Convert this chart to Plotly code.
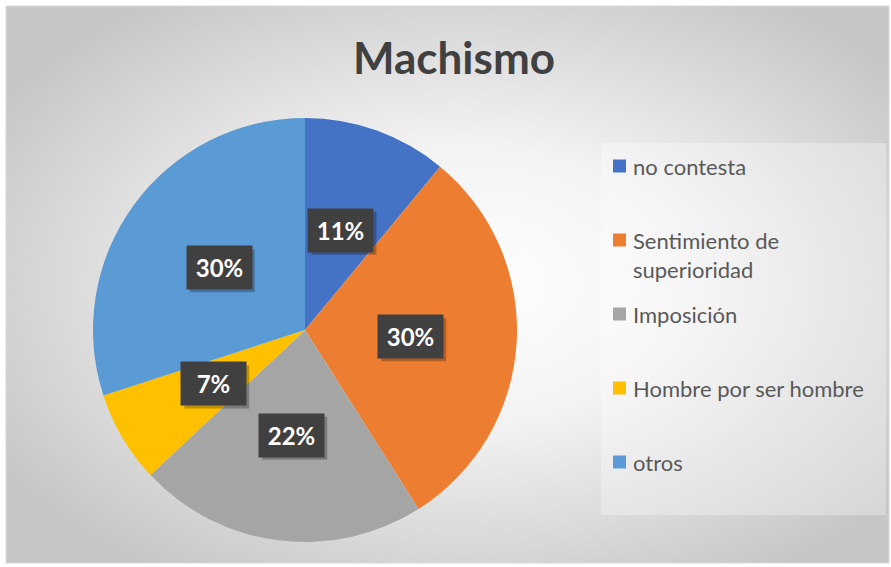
import base64, math
import plotly.graph_objects as go

# data
labels = ["no contesta", "Sentimiento de superioridad", "Imposición",
          "Hombre por ser hombre", "otros"]
legend_labels = ["no contesta", "Sentimiento de<br>superioridad", "Imposición",
                 "Hombre por ser hombre", "otros"]
values = [11, 30, 22, 7, 30]
colors = ["#4472C4", "#ED7D31", "#A5A5A5", "#FFC000", "#5B9BD5"]

W, H = 891, 567
cx, cy, R = 305, 330, 212   # pie centre / radius in px

def px(x, y):
    return x / W, 1 - y / H

# radial gradient background as inline svg
svg = """<svg xmlns='http://www.w3.org/2000/svg' width='883' height='557'>
<defs><radialGradient id='g' cx='52%' cy='50%' r='62%'>
<stop offset='0%' stop-color='#ffffff'/><stop offset='40%' stop-color='#f3f3f3'/>
<stop offset='100%' stop-color='#c6c6c6'/></radialGradient></defs>
<rect width='883' height='557' fill='url(#g)'/></svg>"""
bg_src = "data:image/svg+xml;base64," + base64.b64encode(svg.encode()).decode()

fig = go.Figure()
fig.add_trace(go.Pie(
    labels=labels, values=values, sort=False, direction="clockwise", rotation=0,
    marker=dict(colors=colors, line=dict(width=0)),
    textinfo="none", hoverinfo="label+percent", showlegend=False,
    domain=dict(x=[(cx - R) / W, (cx + R) / W], y=[1 - (cy + R) / H, 1 - (cy - R) / H]),
))

shapes = [
    dict(type="rect", xref="paper", yref="paper", x0=6 / W, x1=889 / W, y0=1 - 563 / H, y1=1 - 6 / H,
         line=dict(color="#d9d9d9", width=1), layer="above"),
    dict(type="rect", xref="paper", yref="paper", x0=601 / W, x1=886 / W, y0=1 - 515 / H, y1=1 - 143 / H,
         fillcolor="rgba(255,255,255,0.3)", line=dict(width=0), layer="below"),
]
ann = []

# data labels: mid angle of each slice, half radius out
total = sum(values)
cum = 0
for v in values:
    th = 2 * math.pi * (cum + v / 2) / total
    cum += v
    lx, ly = cx + 0.5 * R * math.sin(th), cy - 0.5 * R * math.cos(th)
    x, y = px(lx, ly)
    # drop shadow behind the label box
    sx0, sy0 = px(lx - 32.5 + 3, ly + 21.5 + 3)
    sx1, sy1 = px(lx + 32.5 + 3, ly - 21.5 + 3)
    shapes.append(dict(type="rect", xref="paper", yref="paper", x0=sx0, x1=sx1, y0=sy0, y1=sy1,
                       fillcolor="rgba(0,0,0,0.25)", line=dict(width=0), layer="above"))
    txt = f"{round(100 * v / total)}%"
    ann.append(dict(x=x, y=y, xref="paper", yref="paper", xanchor="center", yanchor="middle",
                    showarrow=False, width=53, height=31, borderpad=6,
                    text=f"<b>{txt}</b>", bgcolor="#404040",
                    font=dict(family="Lato", size=24, color="white")))

# legend drawn by hand so spacing follows the original
for i, (lab, col) in enumerate(zip(legend_labels, colors)):
    yc = 166 + 74 * i
    x0, y0 = px(613, yc - 6.5)
    x1, y1 = px(626, yc + 6.5)
    shapes.append(dict(type="rect", xref="paper", yref="paper", x0=x0, x1=x1, y0=y1, y1=y0,
                       fillcolor=col, line=dict(width=0)))
    tx, ty = px(631, yc - 15)
    ann.append(dict(x=tx, y=ty, xref="paper", yref="paper", xanchor="left", yanchor="top",
                    showarrow=False, text=lab, align="left",
                    font=dict(family="Lato", size=22, color="#595959")))

tx, ty = px(454, 57)
ann.append(dict(x=tx, y=ty, xref="paper", yref="paper", xanchor="center", yanchor="middle",
                showarrow=False, text="<b>Machismo</b>",
                font=dict(family="Lato", size=44, color="#404040")))

fig.update_layout(
    width=W, height=H, margin=dict(l=0, r=0, t=0, b=0),
    paper_bgcolor="white", plot_bgcolor="white",
    images=[dict(source=bg_src, xref="paper", yref="paper", x=6 / W, y=1 - 6 / H,
                 sizex=883 / W, sizey=557 / H, sizing="stretch", layer="below")],
    shapes=shapes, annotations=ann,
)

fig.write_html("out.html", config={"displayModeBar": False},
               post_script="document.body.style.margin='0';")
